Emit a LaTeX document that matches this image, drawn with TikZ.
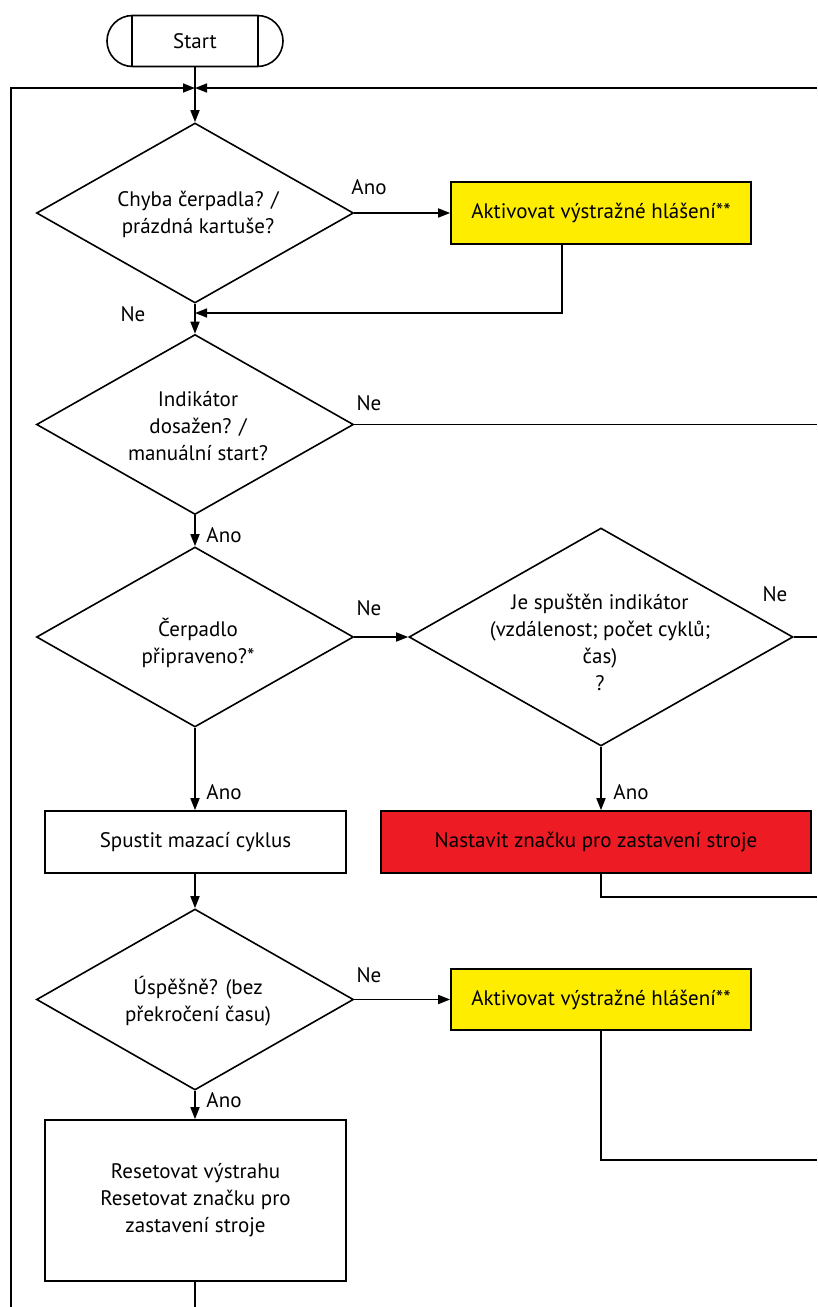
\documentclass[tikz,border=0pt]{standalone}
\usepackage{fontspec}
\setmainfont{PT Sans}
\usetikzlibrary{arrows.meta,shapes.geometric}
\definecolor{warnyellow}{RGB}{255,237,0}
\definecolor{stopred}{RGB}{237,28,36}

\begin{document}
\begin{tikzpicture}[x=1pt, y=-1pt, >={Triangle[length=12pt,width=9pt]},
  every node/.style={font=\fontsize{21}{27}\selectfont},
  box/.style={draw,line width=1.6pt,minimum width=301pt,minimum height=62pt,align=center,inner sep=0pt},
  warnbox/.style={box,fill=warnyellow},
  stopbox/.style={box,fill=stopred,minimum width=430pt},
  decision/.style={draw,diamond,line width=1.6pt,inner sep=0pt,minimum width=317pt,minimum height=180pt},
  txt/.style={align=center,inner sep=0pt},
  flow/.style={->,line width=1.6pt},
  plain/.style={line width=1.6pt}]
  \useasboundingbox (0,0) rectangle (817,1307);

  % start terminal
  \node[draw,line width=1.6pt,rounded corners=25.5pt,minimum width=176pt,minimum height=51pt,inner sep=0pt] (start) at (195,41) {Start};
  \draw[plain] ([xshift=26pt]start.north west) -- ([xshift=26pt]start.south west);
  \draw[plain] ([xshift=-26pt]start.north east) -- ([xshift=-26pt]start.south east);

  % loop coordinates
  \coordinate (join) at (195,88);
  \coordinate (lefttop) at (11,88);
  \coordinate (leftbot) at (11,1307);
  \coordinate (righttop) at (817,88);

  % decisions
  \node[decision] (pump) at (195,213) {};
  \node[txt] (pumpt) at (198,214) {Chyba čerpadla? /\\prázdná kartuše?};
  \node[decision] (ind) at (195,424.5) {};
  \node[txt] (indt) at (198,426) {Indikátor\\dosažen? /\\manuální start?};
  \node[decision] (ready) at (195,637) {};
  \node[txt] (readyt) at (198,643) {Čerpadlo\\připraveno?*};
  \node[decision,minimum width=384pt,minimum height=218pt] (trig) at (601,637) {};
  \node[txt] (trigt) at (600,642) {Je spuštěn indikátor\\(vzdálenost; počet cyklů;\\čas)\\?};
  \node[decision,minimum height=181pt] (ok) at (195,999.5) {};
  \node[txt] (okt) at (198,1001) {Úspěšně? (bez\\překročení času)};

  % actions
  \node[warnbox,minimum width=300pt] (warn1) at (601,213) {Aktivovat výstražné hlášení**};
  \node[box] (lube) at (195.5,842) {Spustit mazací cyklus};
  \node[stopbox] (stop) at (596,842) {Nastavit značku pro zastavení stroje};
  \node[warnbox,minimum width=300pt,minimum height=61pt] (warn2) at (601,999.5) {Aktivovat výstražné hlášení**};
  \node[box,minimum height=161pt] (reset) at (195.5,1200.5) {Resetovat výstrahu\\Resetovat značku pro\\zastavení stroje};

  % right edge coordinates
  \coordinate (indr) at (817,424.5);
  \coordinate (trigr) at (817,637);
  \coordinate (stopc) at (601,897);
  \coordinate (stopr) at (817,897);
  \coordinate (warn2c) at (601,1160);
  \coordinate (warn2r) at (817,1160);
  \coordinate (warn1c) at (562,313);
  \coordinate (backin) at (195,313);
  \coordinate (resetend) at (195,1307);

  % connectors
  \draw[flow] (start) -- (pump);
  \draw[flow] (leftbot) -- (lefttop) -- (join);
  \draw[flow] (righttop) -- (join);
  \draw[flow] (pump.east) -- (warn1.west);
  \draw[flow] (warn1.south -| warn1c) -- (warn1c) -- (backin);
  \draw[flow] (pump.south) -- (ind.north);
  \draw[plain] (ind.east) -- (indr);
  \draw[flow] (ind.south) -- (ready.north);
  \draw[flow] (ready.east) -- (trig.west);
  \draw[plain] (trig.east) -- (trigr);
  \draw[flow] (trig.south) -- (trig.south |- stop.north);
  \draw[plain] (stop.south -| stopc) -- (stopc) -- (stopr);
  \draw[flow] (ready.south) -- (lube.north -| ready.south);
  \draw[flow] (lube.south -| ok.north) -- (ok.north);
  \draw[flow] (ok.east) -- (warn2.west);
  \draw[plain] (warn2.south) -- (warn2c) -- (warn2r);
  \draw[flow] (ok.south) -- (reset.north -| ok.south);
  \draw[plain] (reset.south -| resetend) -- (resetend);

  % branch labels
  \node (ano1) at (369,187) {Ano};
  \node (ne1) at (133,314) {Ne};
  \node (ne2) at (369,403) {Ne};
  \node (ano2) at (224,535) {Ano};
  \node (ne3) at (369,608) {Ne};
  \node (ne4) at (775,594) {Ne};
  \node (ano3) at (631,792) {Ano};
  \node (ano4) at (224,792) {Ano};
  \node (ne5) at (369,975) {Ne};
  \node (ano5) at (224,1100) {Ano};
\end{tikzpicture}
\end{document}
